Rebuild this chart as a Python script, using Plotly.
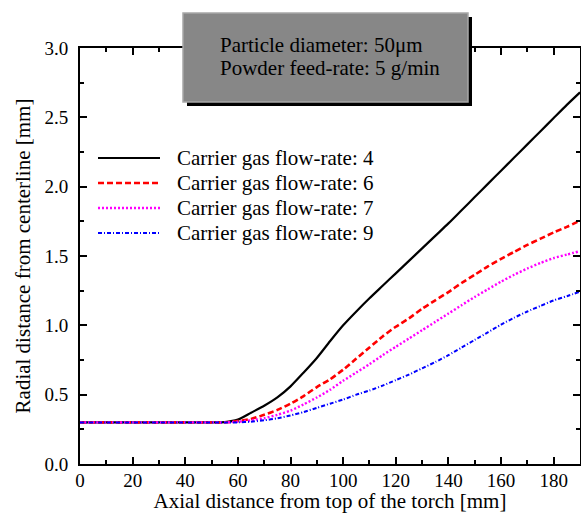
import plotly.graph_objects as go

# Axial distance [mm]
x_mm = [0, 10, 20, 30, 40, 50, 55, 60, 65, 70, 75, 80, 85, 90, 95, 100,
        105, 110, 115, 120, 125, 130, 135, 140, 145, 150, 155, 160, 165,
        170, 175, 180, 185, 190]

# Radial distance [mm] for each carrier gas flow-rate
r_flow4 = [0.30, 0.30, 0.30, 0.30, 0.30, 0.30, 0.302, 0.32, 0.37, 0.42, 0.48,
           0.56, 0.66, 0.765, 0.885, 1.00, 1.10, 1.195, 1.285, 1.375, 1.465, 1.555,
           1.645, 1.735, 1.83, 1.925, 2.02, 2.115, 2.21, 2.305, 2.40, 2.495, 2.59, 2.68]
r_flow6 = [0.30, 0.30, 0.30, 0.30, 0.30, 0.30, 0.30, 0.31, 0.325, 0.355, 0.39,
           0.435, 0.49, 0.555, 0.61, 0.68, 0.76, 0.84, 0.92, 0.99, 1.05, 1.12,
           1.18, 1.24, 1.305, 1.365, 1.425, 1.48, 1.53, 1.58, 1.625, 1.67, 1.71, 1.755]
r_flow7 = [0.30, 0.30, 0.30, 0.30, 0.30, 0.30, 0.30, 0.305, 0.315, 0.33, 0.355,
           0.385, 0.43, 0.48, 0.535, 0.60, 0.66, 0.72, 0.785, 0.845, 0.905, 0.965,
           1.025, 1.085, 1.145, 1.205, 1.26, 1.315, 1.365, 1.41, 1.45, 1.485, 1.51, 1.535]
r_flow9 = [0.30, 0.30, 0.30, 0.30, 0.30, 0.30, 0.30, 0.30, 0.305, 0.315, 0.33,
           0.35, 0.375, 0.405, 0.435, 0.465, 0.50, 0.53, 0.565, 0.605, 0.645, 0.69,
           0.735, 0.785, 0.84, 0.895, 0.95, 1.005, 1.055, 1.10, 1.14, 1.18, 1.21, 1.243]

series_names = ["Carrier gas flow-rate: 4", "Carrier gas flow-rate: 6",
                "Carrier gas flow-rate: 7", "Carrier gas flow-rate: 9"]
series_values = [r_flow4, r_flow6, r_flow7, r_flow9]
series_colors = ["#000000", "#ff0000", "#ff00ff", "#0000ff"]
series_dash = ["solid", "6px,3px", "2px,2px", "4px,2px,1px,2px"]
series_width = [2.2, 2.6, 2.4, 2.0]

info_lines = ["Particle diameter: 50\u03bcm", "Powder feed-rate: 5 g/min"]

FONT = "Liberation Serif"

fig = go.Figure()
for name, vals, col, dash, w in zip(series_names, series_values, series_colors,
                                    series_dash, series_width):
    fig.add_trace(go.Scatter(x=x_mm, y=vals, mode="lines", name=name,
                             showlegend=False, line_shape="spline",
                             line=dict(color=col, dash=dash, width=w,
                                       smoothing=0.6)))

axis_common = dict(showline=True, linecolor="black", linewidth=2,
                   mirror="allticks", ticks="inside", ticklen=7, tickwidth=1.5,
                   tickcolor="black", showgrid=False, zeroline=False,
                   automargin=False,
                   tickfont=dict(family=FONT, size=19, color="black"))

fig.update_xaxes(range=[0, 190], dtick=20, tick0=0,
                 minor=dict(dtick=10, ticks="inside", ticklen=4, tickwidth=1.5,
                            tickcolor="black"),
                 title=dict(text="Axial distance from top of the torch [mm]",
                            font=dict(family=FONT, size=21, color="black"),
                            standoff=2),
                 ticklabelstandoff=-2,
                 **axis_common)
fig.update_yaxes(range=[0, 3.0], dtick=0.5, tick0=0, tickformat=".1f",
                 minor=dict(dtick=0.25, ticks="inside", ticklen=4, tickwidth=1.5,
                            tickcolor="black"),
                 title=dict(text="Radial distance from centerline [mm]",
                            font=dict(family=FONT, size=21, color="black"),
                            standoff=8),
                 ticklabelstandoff=6,
                 **axis_common)

# info box (shadow + gray box) over the plot's top edge
fig.add_shape(type="rect", xref="paper", yref="paper",
              x0=0.214, x1=0.784, y0=0.8606, y1=1.0745,
              fillcolor="black", line=dict(width=0), layer="above")
fig.add_shape(type="rect", xref="paper", yref="paper",
              x0=0.206, x1=0.776, y0=0.870, y1=1.084,
              fillcolor="#878787", line=dict(color="#a8a8a8", width=1.5),
              layer="above")
for txt, yy in zip(info_lines, [1.007, 0.952]):
    fig.add_annotation(xref="paper", yref="paper", x=0.276, y=yy,
                       xanchor="left", yanchor="middle", showarrow=False,
                       text=txt, font=dict(family=FONT, size=21, color="black"))

# legend (line samples + labels)
legend_y = [0.7356, 0.6755, 0.6154, 0.5553]
for name, col, dash, w, yy in zip(series_names, series_colors, series_dash,
                                  series_width, legend_y):
    fig.add_shape(type="line", xref="paper", yref="paper",
                  x0=0.036, x1=0.16, y0=yy, y1=yy,
                  line=dict(color=col, dash=dash, width=w))
    fig.add_annotation(xref="paper", yref="paper", x=0.19, y=yy,
                       xanchor="left", yanchor="middle", showarrow=False,
                       text=name, font=dict(family=FONT, size=21, color="black"))

fig.update_layout(
    width=581, height=513,
    margin=dict(l=80, r=1, t=48, b=49),
    paper_bgcolor="white", plot_bgcolor="white",
    showlegend=False,
)

fig.write_html("out.html", config={"displayModeBar": False},
               post_script="document.body.style.margin='0';"
                           "document.body.style.overflow='hidden';")
